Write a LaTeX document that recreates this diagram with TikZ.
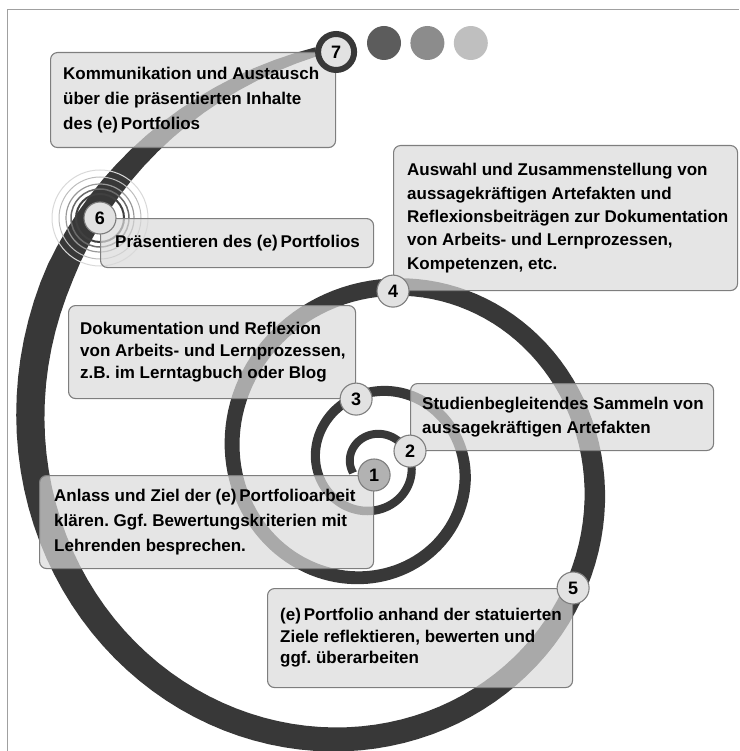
\documentclass[tikz,border=0pt]{standalone}
\usepackage{fontspec}
\setmainfont{Liberation Sans}
\usepackage{tikz}
\usetikzlibrary{
	positioning,									% 节点的高级摆放
}

\definecolor{spiralgray}{HTML}{383838}
\definecolor{boxfill}{HTML}{DADADA}
\definecolor{boxline}{HTML}{7E7E7E}
\definecolor{numfill}{HTML}{E2E2E2}
\definecolor{framegray}{HTML}{A0A0A0}

\tikzset{
	stepbox/.style={draw=boxline, line width=1.1pt, fill=boxfill, fill opacity=0.7,
		rounded corners=7pt, anchor=north west, inner sep=0pt},
	steptext/.style={align=left, inner sep=0pt},
	linegap/.style={font=\fontsize{17}{#1}\selectfont\bfseries\frenchspacing},
	stepnum/.style={circle, draw=boxline, line width=1.1pt, fill=numfill, minimum size=32pt,
		inner sep=0pt, font=\fontsize{18}{18}\selectfont\bfseries},
	greydot/.style={circle, minimum size=34pt, inner sep=0pt},
}

\begin{document}
\begin{tikzpicture}[x=1pt, y=-1pt,
		declare function={
			sprad(\s) = 72.4*exp(0.002452*\s);
			spwid(\s) = ifthenelse(\s<660, 8+22*exp(2.72*ln(max((\s+473)/1140,0.001))), 30-(\s-660)/55*22);
		}]
		\useasboundingbox (0,0) rectangle (739,751);
		\draw [framegray, line width=1pt] (7,751) -- (7,10) -- (739,10);

		% Spirale
		\fill [spiralgray] plot [domain=-473:712, samples=400]
			({374+(sprad(\x)+spwid(\x)/2)*sin(\x)}, {464-(sprad(\x)+spwid(\x)/2)*cos(\x)})
			-- plot [domain=712:-473, samples=400]
			({374+(sprad(\x)-spwid(\x)/2)*sin(\x)}, {464-(sprad(\x)-spwid(\x)/2)*cos(\x)}) -- cycle;

		\coordinate (p6) at (100,218);
		\foreach \r/\c/\w in {24/black!75/2, 29/black!58/1.5, 34/black!40/1.2, 41/black!26/1, 48/black!15/1}
			\draw [\c, line width=\w pt] (p6) circle (\r pt);

		\node [stepbox, minimum width=285pt, minimum height=95pt] (box7) at (50,52) {};
		\node [stepbox, minimum width=273pt, minimum height=49pt] (box6) at (p6) {};
		\node [stepbox, minimum width=344pt, minimum height=145pt] (box4) at (393,145) {};
		\node [stepbox, minimum width=287pt, minimum height=93pt] (box3) at (68,305) {};
		\node [stepbox, minimum width=303pt, minimum height=67pt] (box2) at (410,383) {};
		\node [stepbox, minimum width=334pt, minimum height=93pt] (box1) at (39,475) {};
		\node [stepbox, minimum width=305pt, minimum height=99pt] (box5) at (267,588) {};

		\node [steptext, linegap=25, right=13pt of box7.west] (t7)
			{Kommunikation und Austausch\\über die präsentierten Inhalte\\des (e)\,Portfolios};
		\node [steptext, linegap=23, right=15pt of box6.west] (t6)
			{Präsentieren des (e)\,Portfolios};
		\node [steptext, linegap=23.3, right=14pt of box4.west] (t4)
			{Auswahl und Zusammenstellung von\\aussagekräftigen Artefakten und\\Reflexionsbeiträgen zur Dokumentation\\von Arbeits- und Lernprozessen,\\Kompetenzen, etc.};
		\node [steptext, linegap=22, right=12pt of box3.west] (t3)
			{Dokumentation und Reflexion\\von Arbeits- und Lernprozessen,\\z.B. im Lerntagbuch oder Blog};
		\node [steptext, linegap=24, right=12pt of box2.west] (t2)
			{Studienbegleitendes Sammeln von\\aussagekräftigen Artefakten};
		\node [steptext, linegap=25, right=15pt of box1.west] (t1)
			{Anlass und Ziel der (e)\,Portfolioarbeit\\klären. Ggf. Bewertungskriterien mit\\Lehrenden besprechen.};
		\node [steptext, linegap=21.5, right=13pt of box5.west] (t5)
			{(e)\,Portfolio anhand der statuierten\\Ziele reflektieren, bewerten und\\ggf. überarbeiten};

		\node [stepnum, fill=black!30] (c1) at (box1.north east) {1};
		\node [stepnum] (c2) at (box2.south west) {2};
		\node [stepnum] (c3) at (box3.south east) {3};
		\node [stepnum] (c4) at (box4.south west) {4};
		\node [stepnum] (c5) at (box5.north east) {5};
		\node [stepnum] (c6) at (box6.north west) {6};
		\node [stepnum, draw=spiralgray, line width=6pt, minimum size=36pt] (c7) at (box7.north east) {7};

		\node [greydot, fill=black!64] (d1) at (384,43) {};
		\node [greydot, fill=black!45, right=9pt of d1] (d2) {};
		\node [greydot, fill=black!25, right=9pt of d2] (d3) {};
	\end{tikzpicture}
\end{document}
